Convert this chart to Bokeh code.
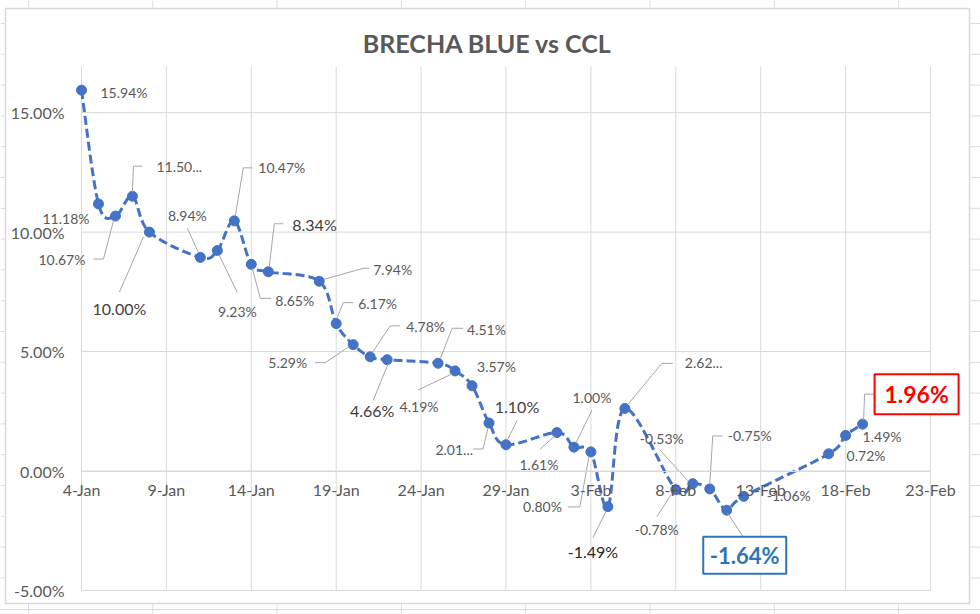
import numpy as np
import pandas as pd
from bokeh.plotting import figure
from bokeh.models import FixedTicker, PrintfTickFormatter, Range1d, Label
from bokeh.embed import file_html
from bokeh.resources import INLINE
from bokeh.core.properties import value

# ---------------- data ----------------
title_text = "BRECHA BLUE vs CCL"
dates = ["2021-01-04", "2021-01-05", "2021-01-06", "2021-01-07", "2021-01-08",
         "2021-01-11", "2021-01-12", "2021-01-13", "2021-01-14", "2021-01-15",
         "2021-01-18", "2021-01-19", "2021-01-20", "2021-01-21", "2021-01-22",
         "2021-01-25", "2021-01-26", "2021-01-27", "2021-01-28", "2021-01-29",
         "2021-02-01", "2021-02-02", "2021-02-03", "2021-02-04", "2021-02-05",
         "2021-02-08", "2021-02-09", "2021-02-10", "2021-02-11", "2021-02-12",
         "2021-02-17", "2021-02-18", "2021-02-19"]
brecha = [15.94, 11.18, 10.67, 11.50, 10.00,
          8.94, 9.23, 10.47, 8.65, 8.34,
          7.94, 6.17, 5.29, 4.78, 4.66,
          4.51, 4.19, 3.57, 2.01, 1.10,
          1.61, 1.00, 0.80, -1.49, 2.62,
          -0.78, -0.53, -0.75, -1.64, -1.06,
          0.72, 1.49, 1.96]
data_labels = ["15.94%", "11.18%", "10.67%", "11.50...", "10.00%",
               "8.94%", "9.23%", "10.47%", "8.65%", "8.34%",
               "7.94%", "6.17%", "5.29%", "4.78%", "4.66%",
               "4.51%", "4.19%", "3.57%", "2.01...", "1.10%",
               "1.61%", "1.00%", "0.80%", "-1.49%", "2.62...",
               "-0.78%", "-0.53%", "-0.75%", "-1.64%", "-1.06%",
               "0.72%", "1.49%", "1.96%"]
x_tick_dates = ["2021-01-04", "2021-01-09", "2021-01-14", "2021-01-19", "2021-01-24",
                "2021-01-29", "2021-02-03", "2021-02-08", "2021-02-13", "2021-02-18",
                "2021-02-23"]
x_tick_labels = ["4-Jan", "9-Jan", "14-Jan", "19-Jan", "24-Jan", "29-Jan",
                 "3-Feb", "8-Feb", "13-Feb", "18-Feb", "23-Feb"]
y_ticks = [-5, 0, 5, 10, 15]
y_max = 16.93

# ---------------- label styling (pixel offsets from each point) ----------------
# (align, dx, dy, leader polyline offsets) ; dy positive = down on screen
label_style = [
    ("left", 19, 2, []),
    ("right", -9, 15, []),
    ("right", -30, 43, [(-22, 43), (-12, 43), (-2, 5)]),
    ("left", 24, -29, [(10, -30), (1, -30), (0, -4)]),
    ("center", -30, 76, [(-30, 60), (-6, 5)]),
    ("center", -13, -42, [(-13, -29), (-2, -5)]),
    ("center", 20, 61, [(20, 42), (2, 5)]),
    ("left", 24, -53, [(18, -53), (9, -53), (1, -5)]),
    ("left", 24, 36, [(1, 4), (9, 34), (20, 34)]),
    ("left", 24, -47, [(15, -48), (6, -48), (1, -5)]),
    ("left", 54, -12, [(5, -2), (44, -13), (50, -13)]),
    ("left", 22, -20, [(1, -6), (7, -21), (17, -21)]),
    ("right", -46, 18, [(-38, 18), (-28, 18), (-4, 2)]),
    ("left", 36, -30, [(30, -31), (20, -31), (2, -4)]),
    ("center", -15, 51, [(1, 4), (-14, 41)]),
    ("left", 29, -34, [(25, -35), (14, -35), (2, -4)]),
    ("center", -36, 36, [(-37, 19), (-3, 3)]),
    ("left", 5, -19, []),
    ("right", -16, 27, [(-16, 26), (-6, 26), (-1, 5)]),
    ("center", 11, -38, [(11, -24), (1, -4)]),
    ("center", -18, 32, [(-17, 17), (-2, 3)]),
    ("center", 18, -50, [(18, -37), (2, -4)]),
    ("right", -29, 55, [(-23, 55), (-11, 55), (-2, 5)]),
    ("center", -15, 45, [(-15, 31), (-2, 5)]),
    ("left", 60, -45, [(48, -45), (37, -45), (3, -4)]),
    ("center", -19, 40, [(-19, 27), (-4, 4)]),
    ("center", -31, -45, [(-33, -34), (-5, -3)]),
    ("left", 18, -53, [(13, -53), (3, -53), (0, -5)]),
    ("center", 18, 45, [(1, 3), (16, 26)]),
    ("left", 23, -1, []),
    ("left", 18, 2, []),
    ("left", 17, 1, []),
    ("center", 54, -30, [(1, -4), (2, -30), (12, -30)]),
]
big_labels = {4: "#404040", 9: "#404040", 14: "#404040", 19: "#404040", 23: "#262626"}
box_labels = {28: ("#2E75B6", "22px", 83, 37), 32: ("#FF0000", "23px", 84, 40)}

# ---------------- geometry (canvas pixels) ----------------
W, H = 980, 614
FL, FR, FT, FB = 81, 930, 66, 590          # plot area inside the chart
start = pd.Timestamp(x_tick_dates[0])
xd = np.array([(pd.Timestamp(d) - start).days for d in dates], dtype=float)
xt = [float((pd.Timestamp(d) - start).days) for d in x_tick_dates]
yv = np.array(brecha, dtype=float)
x0, x1 = xt[0], xt[-1]
y0, y1 = float(y_ticks[0]), y_max
PPD = (FR - FL) / (x1 - x0)
PPP = (FB - FT) / (y1 - y0)

def px2x(sx):
    return x0 + (sx - FL) / PPD

def px2y(sy):
    return y0 + (FB - sy) / PPP

p = figure(width=W, height=H, output_backend="svg", toolbar_location=None, title=None,
           x_range=Range1d(px2x(0), px2x(W)), y_range=Range1d(px2y(H), px2y(0)),
           min_border_left=0, min_border_right=0, min_border_top=0, min_border_bottom=0)
p.background_fill_color = "white"
p.border_fill_color = "white"
p.outline_line_color = None
p.xgrid.visible = False
p.ygrid.visible = False

# spreadsheet cell lines around the chart (decoration)
sheet_cols = [28 + 124.3 * k for k in range(8)]
sheet_rows = [23 + 30.8 * k for k in range(19)]
sx0, sy0, sx1, sy1 = [], [], [], []
for c in sheet_cols:
    sx0 += [px2x(c), px2x(c)]; sx1 += [px2x(c), px2x(c)]
    sy0 += [px2y(0), px2y(603)]; sy1 += [px2y(8), px2y(H)]
for r in sheet_rows:
    sx0 += [px2x(0), px2x(969)]; sx1 += [px2x(5), px2x(W)]
    sy0 += [px2y(r), px2y(r)]; sy1 += [px2y(r), px2y(r)]
sx0.append(px2x(0)); sx1.append(px2x(W)); sy0.append(px2y(609)); sy1.append(px2y(609))
p.segment(sx0, sy0, sx1, sy1, line_color="#DADCDD", line_width=1)

# chart area border
p.quad(left=[px2x(5)], right=[px2x(969)], top=[px2y(8)], bottom=[px2y(603)],
       fill_color="white", line_color="#D9D9D9", line_width=1.5)

# gridlines limited to the plot area
p.segment(x0=xt, y0=[y0] * len(xt), x1=xt, y1=[y1] * len(xt),
          line_color="#D9D9D9", line_width=1)
p.segment(x0=[x0] * len(y_ticks), y0=y_ticks, x1=[x1] * len(y_ticks), y1=y_ticks,
          line_color="#D9D9D9", line_width=1)

# title
p.add_layout(Label(x=px2x(487), y=px2y(42), text=title_text, text_align="center",
                   text_baseline="middle", text_font="Lato", text_font_style="bold",
                   text_font_size="25px", text_color="#595959"))

# axes
p.xaxis.ticker = FixedTicker(ticks=xt)
p.xaxis.major_label_overrides = {t: l for t, l in zip(xt, x_tick_labels)}
p.xaxis.fixed_location = 0
p.xaxis.bounds = (x0, x1)
p.xaxis.axis_line_color = "#D9D9D9"
p.xaxis.major_tick_line_color = None
p.xaxis.minor_tick_line_color = None
p.xaxis.major_tick_out = 0
p.xaxis.major_label_text_font = "Lato"
p.xaxis.major_label_text_font_size = "16px"
p.xaxis.major_label_text_color = "#595959"
p.xaxis.major_label_standoff = 9

p.yaxis.ticker = FixedTicker(ticks=y_ticks)
p.yaxis.formatter = PrintfTickFormatter(format="%.2f%%")
p.yaxis.fixed_location = x0
p.yaxis.bounds = (y0, y1)
p.yaxis.axis_line_color = None
p.yaxis.major_tick_line_color = None
p.yaxis.minor_tick_line_color = None
p.yaxis.major_tick_out = 0
p.yaxis.major_label_text_font = "Lato"
p.yaxis.major_label_text_font_size = "16px"
p.yaxis.major_label_text_color = "#595959"
p.yaxis.major_label_standoff = 17

# smoothed line (Excel-style Bezier through the points)
def smooth(xs, ys, n=24):
    P = np.column_stack([xs, ys])
    E = np.vstack([P[0], P, P[-1]])
    out = [P[0]]
    t = np.linspace(0, 1, n)[1:, None]
    for i in range(len(P) - 1):
        p0, p1, p2, p3 = E[i], E[i + 1], E[i + 2], E[i + 3]
        c1 = p1 + (p2 - p0) / 6.0
        c2 = p2 - (p3 - p1) / 6.0
        seg = (1 - t) ** 3 * p1 + 3 * (1 - t) ** 2 * t * c1 + 3 * (1 - t) * t ** 2 * c2 + t ** 3 * p2
        out.extend(seg)
    return np.array(out)

curve = smooth(xd, yv)
p.line(curve[:, 0], curve[:, 1], line_color="#4472C4", line_width=3, line_dash="9 4")
p.scatter(xd, yv, size=10, marker="circle", fill_color="#4472C4", line_color="#4472C4")

# leader lines
lx, ly = [], []
for i, (al, dx, dy, lead) in enumerate(label_style):
    if lead:
        lx.append([xd[i] + a / PPD for a, b in lead])
        ly.append([yv[i] - b / PPP for a, b in lead])
p.multi_line(lx, ly, line_color="#A6A6A6", line_width=1)

# labels
def add_labels(idx, size, color, style="normal"):
    if not idx:
        return
    xs = [xd[i] + label_style[i][1] / PPD for i in idx]
    ys = [yv[i] - label_style[i][2] / PPP for i in idx]
    p.text(x=xs, y=ys, text=[data_labels[i] for i in idx],
           text_align=[label_style[i][0] for i in idx], text_baseline="middle",
           text_font=value("Lato"), text_font_size=size, text_color=color,
           text_font_style=style)

normal = [i for i in range(len(brecha)) if i not in big_labels and i not in box_labels]
add_labels(normal, "14px", "#595959")
for i, col in big_labels.items():
    add_labels([i], "16px", col)
for i, (col, fs, bw, bh) in box_labels.items():
    bx = xd[i] + label_style[i][1] / PPD
    by = yv[i] - label_style[i][2] / PPP
    p.rect([bx], [by], width=bw, height=bh, width_units="screen", height_units="screen",
           fill_color="white", line_color=col, line_width=2)
    add_labels([i], fs, col, "bold")

open("out.html", "w").write(file_html(p, INLINE))
